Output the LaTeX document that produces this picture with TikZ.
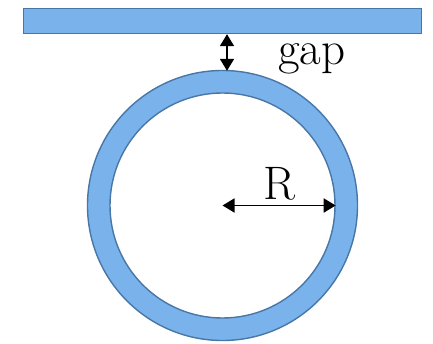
\documentclass[tikz,border=0pt]{standalone}
\usetikzlibrary{arrows.meta}
\definecolor{ringfill}{RGB}{122,179,235}
\definecolor{ringline}{RGB}{72,118,166}

\begin{document}
\begin{tikzpicture}[x=1pt, y=1pt,
  guide/.style={draw=ringline, fill=ringfill, line width=1.4pt, inner sep=0pt},
  hole/.style={draw=ringline, fill=white, line width=1.4pt, circle, inner sep=0pt},
  dim/.style={{Triangle[length=12pt,width=14pt]}-{Triangle[length=12pt,width=14pt]}, line width=1.8pt},
  lbl/.style={font=\fontsize{47}{52}\selectfont, inner sep=0pt}
]
  \useasboundingbox (0,0) rectangle (433,343);
  \node[guide, minimum width=398pt, minimum height=25pt] (bar) at (222.5,322) {};
  \node[guide, circle, minimum size=270pt] (outer) at (222.5,137.5) {};
  \node[hole, minimum size=225pt] (inner) at (outer.center) {};

  \draw[dim] ([xshift=4.5pt]bar.south) -- ([xshift=4.5pt, yshift=-1pt]outer.north);
  \node[lbl, anchor=base west] (gap) at (278,278) {gap};

  \draw[dim] (outer.center) -- (inner.east);
  \node[lbl, anchor=base] (r) at (279,144) {R};
\end{tikzpicture}
\end{document}
